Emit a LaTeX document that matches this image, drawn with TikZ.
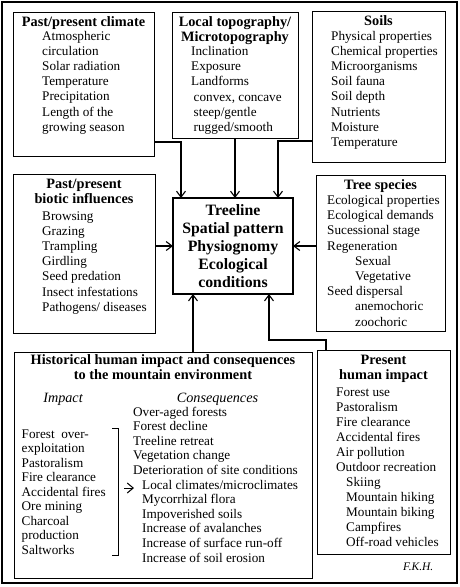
\documentclass[tikz,border=0pt]{standalone}
\usepackage{fontspec}
\setmainfont{Liberation Serif}
\usetikzlibrary{arrows.meta}
\newcommand{\boxlines}[1]{\begin{tabular}[t]{@{}l@{}}#1\end{tabular}}
\newcommand{\boxtitle}[1]{\begin{tabular}[t]{@{}c@{}}#1\end{tabular}}
\begin{document}
\begin{tikzpicture}[x=1pt,y=-1pt,
  box/.style={draw, line width=0.8pt, inner sep=0pt, outer sep=0pt},
  mainbox/.style={draw, line width=2.6pt, inner sep=0pt, outer sep=0pt},
  arr/.style={line width=1.1pt, -{Straight Barb[length=6pt,width=9pt]}},
  txt/.style={anchor=base west, inner sep=0pt, font=\fontsize{13.2}{15.2}\selectfont},
  ttl/.style={anchor=base, inner sep=0pt, font=\bfseries\fontsize{14.3}{15.8}\selectfont},
  itl/.style={anchor=base, inner sep=0pt, font=\itshape\fontsize{14.2}{15}\selectfont}
]
\useasboundingbox (0,0) rectangle (460,587);
% outer frame
\node[draw, line width=1.6pt, inner sep=0pt, outer sep=0pt, minimum width=455pt, minimum height=581pt] (frame) at (229.5,292.5) {};

% boxes
\node[box, minimum width=141pt, minimum height=144pt] (clim) at (83.5,84) {};
\node[box, minimum width=126pt, minimum height=126pt] (topo) at (235,75) {};
\node[box, minimum width=133pt, minimum height=151pt] (soils) at (378.5,86.5) {};
\node[box, minimum width=142pt, minimum height=159pt] (biotic) at (84,253.5) {};
\node[box, minimum width=129pt, minimum height=156pt] (tree) at (380.5,253) {};
\node[mainbox, minimum width=120pt, minimum height=96pt] (center) at (233,246) {};
\node[box, minimum width=298pt, minimum height=226pt] (hist) at (163,465) {};
\node[box, minimum width=133pt, minimum height=204pt] (present) at (383.5,452) {};

% climate
\node[ttl] (climT) at (83.5,26) {\boxtitle{Past/present climate}};
\node[txt] (climL) at (42,40) {\boxlines{Atmospheric\\circulation\\Solar radiation\\Temperature\\Precipitation\\Length of the\\growing season}};

% topography
\node[ttl] (topoT) at (235,26) {\boxtitle{Local topography/\\Microtopography}};
\node[txt] (topoL) at (191,55.5) {\boxlines{Inclination\\Exposure\\Landforms\\\hspace*{2.5pt}convex, concave\\\hspace*{2.5pt}steep/gentle\\\hspace*{2.5pt}rugged/smooth}};

% soils
\node[ttl] (soilT) at (378.5,25) {\boxtitle{Soils}};
\node[txt] (soilL) at (331,40) {\boxlines{Physical properties\\Chemical properties\\Microorganisms\\Soil fauna\\Soil depth\\Nutrients\\Moisture\\Temperature}};

% biotic
\node[ttl] (bioT) at (84,188) {\boxtitle{Past/present\\biotic influences}};
\node[txt] (bioL) at (42,220) {\boxlines{Browsing\\Grazing\\Trampling\\Girdling\\Seed predation\\Insect infestations\\Pathogens/ diseases}};

% tree species
\node[ttl] (treeT) at (380.5,189) {\boxtitle{Tree species}};
\node[txt] (treeL) at (327,204.5) {\boxlines{Ecological properties\\Ecological demands\\Sucessional stage\\Regeneration\\\hspace*{28pt}Sexual\\\hspace*{28pt}Vegetative\\Seed dispersal\\\hspace*{28pt}anemochoric\\\hspace*{28pt}zoochoric}};

% center
\node[anchor=base, inner sep=0pt, font=\bfseries\fontsize{15.8}{18}\selectfont] (centerT) at (233,215) {\boxtitle{Treeline\\Spatial pattern\\Physiognomy\\Ecological\\conditions}};

% historical
\node[ttl] (histT) at (163,364) {\boxtitle{Historical human impact and consequences\\to the mountain environment}};
\node[itl] (impT) at (63,402) {Impact};
\node[itl] (conT) at (217.5,402) {Consequences};
\node[txt, font=\fontsize{13.2}{14.5}\selectfont] (impL) at (21.5,438) {\boxlines{Forest\ \ over-\\exploitation\\Pastoralism\\Fire clearance\\Accidental fires\\Ore mining\\Charcoal\\production\\Saltworks}};
\node[txt, font=\fontsize{13.2}{14.6}\selectfont] (conL) at (133,416) {\boxlines{Over-aged forests\\Forest decline\\Treeline retreat\\Vegetation change\\Deterioration of site conditions\\\hspace*{9pt}Local climates/microclimates\\\hspace*{9pt}Mycorrhizal flora\\\hspace*{9pt}Impoverished soils\\\hspace*{9pt}Increase of avalanches\\\hspace*{9pt}Increase of surface run-off\\\hspace*{9pt}Increase of soil erosion}};
\coordinate (brA) at (112,428);
\coordinate (brB) at (118,428);
\coordinate (brC) at (118,555);
\coordinate (brD) at (112,555);
\draw[line width=1pt] (brA) -- (brB) -- (brC) -- (brD);
\coordinate (impS) at (124,488);
\coordinate (impE) at (134,488);
\draw[line width=1pt, -{Straight Barb[length=6pt,width=10pt]}] (impS) -- (impE);

% present
\node[ttl] (presT) at (383.5,364) {\boxtitle{Present\\human impact}};
\node[txt, font=\fontsize{13.2}{15.05}\selectfont] (presL) at (336,396) {\boxlines{Forest use\\Pastoralism\\Fire clearance\\Accidental fires\\Air pollution\\Outdoor recreation\\\hspace*{10pt}Skiing\\\hspace*{10pt}Mountain hiking\\\hspace*{10pt}Mountain biking\\\hspace*{10pt}Campfires\\\hspace*{10pt}Off-road vehicles}};
\node[anchor=base west, inner sep=0pt, font=\itshape\fontsize{11.5}{13}\selectfont] (fkh) at (403,570) {F.K.H.};

% connectors
\draw[arr] (clim.east |- 0,142) -| (center.north -| 181,0);
\draw[arr] (topo.south) -- (center.north -| topo.south);
\draw[arr] (soils.west |- 0,141) -| (center.north -| 278,0);
\draw[arr] (biotic.east |- center.west) -- (center.west);
\draw[arr] (tree.west |- center.east) -- (center.east);
\draw[arr] (hist.north -| 193,0) -- (center.south -| 193,0);
\draw[arr] (present.north -| 326,0) -- ++(0,-10) -| (center.south -| 269,0);
\end{tikzpicture}
\end{document}
